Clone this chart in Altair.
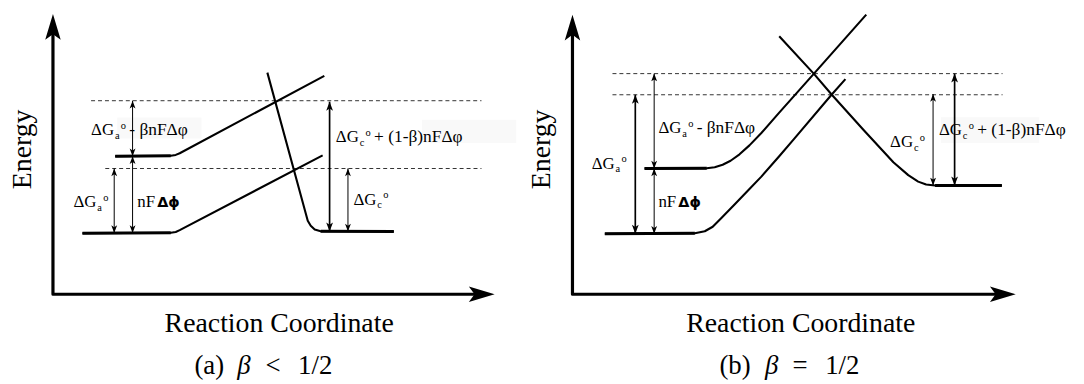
import altair as alt
import pandas as pd

# ---------------- values (pixel coordinates) ----------------
# panel (a)  beta < 1/2
A_ANODE_LOW_X = [83, 172, 177, 181, 325]
A_ANODE_LOW_Y = [233.5, 233, 232.2, 230.4, 155]
A_ANODE_UP_X = [116, 172, 177, 181, 326.7]
A_ANODE_UP_Y = [156, 155.5, 154.6, 152.9, 75]
A_CATH_X = [269.3, 310, 313, 317, 323, 396.7]
A_CATH_Y = [71.7, 221, 226, 229.8, 231.5, 231.7]

# panel (b)  beta = 1/2
B_ANODE_LOW_X = [609.3, 700, 710, 718, 727, 740, 755, 767, 785, 800, 837.7, 851.7]
B_ANODE_LOW_Y = [234, 233.6, 231.5, 227, 218, 204.5, 189, 176.5, 156, 138.5, 94, 78.3]
B_ANODE_UP_X = [649.3, 712, 720, 728, 736, 745, 755, 767, 785, 820, 872.7]
B_ANODE_UP_Y = [168.3, 168, 167, 164.5, 160.5, 154, 145, 132.5, 112, 72.7, 13.3]
B_CATH_X = [785, 820, 838, 870, 900, 915, 925, 933, 942, 1009.3]
B_CATH_Y = [35, 73, 94, 129.5, 162, 175, 181.5, 184.5, 185.5, 185.5]

# axes (origin x, origin y, y tip, x tip)
AXES_X0 = [53.3, 576.7]
AXES_Y0 = [295, 295]
AXES_YTIP = [12.7, 13.3]
AXES_XTIP = [498.3, 1023.3]

# dashed levels
DASH_Y = [100, 168.3, 72.7, 94]
DASH_X1 = [91.7, 106, 617, 617]
DASH_X2 = [485, 485, 1010, 1010]

# double arrows: x, top, bottom, heavy?
ARR_X = [133.5, 133.5, 115, 332, 350.5, 640, 659, 659, 940, 961.7]
ARR_TOP = [100, 156, 168.3, 101, 168.3, 94, 72.7, 168.3, 93.3, 72.7]
ARR_BOT = [156, 233.3, 233.3, 231.7, 231.7, 234, 168.3, 234, 185.3, 185.3]
ARR_HEAVY = [0, 0, 0, 1, 0, 1, 0, 0, 0, 1]

# ΔG labels: left x, baseline, subscript, remainder
LAB_X = [91.7, 74, 338.3, 356, 663.3, 596, 896.7, 946]
LAB_Y = [135, 207.5, 141.7, 205, 132.7, 168.3, 146.7, 135]
LAB_SUB = ["a", "a", "c", "c", "a", "a", "c", "c"]
LAB_REST = [" - βnFΔφ", "", " + (1-β)nFΔφ", "", " - βnFΔφ", "", "", " + (1-β)nFΔφ"]

# nFΔϕ labels
NF_X = [138.3, 663.3]
NF_Y = [207.5, 206.7]

# faint label backgrounds
BOX_X1 = [118, 425, 948]
BOX_X2 = [203, 520, 1047]
BOX_Y1 = [117, 119.3, 116.7]
BOX_Y2 = [138, 142.7, 142.7]

# big titles
ENERGY_X = [23, 546]
ENERGY_Y = [149, 149]
RC_X = [281.2, 806.7]
RC_Y = [333.3, 333.3]
CAP_TEXT = ["(a)", "<", "1/2", "(b)", "=", "1/2"]
CAP_X = [210.8, 275, 317.5, 740.5, 806, 848.5]
CAP_BETA_X = [245.8, 777.5]
CAP_Y = 375

SERIF = "'Liberation Serif', 'Times New Roman', Times, serif"

# ---------------- build tables ----------------
X = lambda f="x": alt.X(f"{f}:Q", scale=alt.Scale(domain=[8, 1084], nice=False, zero=False), axis=None)
Y = lambda f="y": alt.Y(f"{f}:Q", scale=alt.Scale(domain=[8, 384], reverse=True, nice=False, zero=False), axis=None)

curves = []
defs = [
    ("a_low", A_ANODE_LOW_X, A_ANODE_LOW_Y, "first"),
    ("a_up", A_ANODE_UP_X, A_ANODE_UP_Y, "first"),
    ("a_cath", A_CATH_X, A_CATH_Y, "last"),
    ("b_low", B_ANODE_LOW_X, B_ANODE_LOW_Y, "first"),
    ("b_up", B_ANODE_UP_X, B_ANODE_UP_Y, "first"),
    ("b_cath", B_CATH_X, B_CATH_Y, "last"),
]
for cid, xs, ys, flat in defs:
    for i, (xx, yy) in enumerate(zip(xs, ys)):
        curves.append({"x": xx, "y": yy, "id": cid, "o": i, "w": 2.1})
    # heavier flat (well bottom) segment
    idx = [0, 1] if flat == "first" else [len(xs) - 2, len(xs) - 1]
    for j, i in enumerate(idx):
        curves.append({"x": xs[i], "y": ys[i], "id": cid + "_flat", "o": j, "w": 3.0})
for k in range(2):
    curves += [
        {"x": AXES_X0[k], "y": AXES_YTIP[k] + 14, "id": f"ax{k}", "o": 0, "w": 3.2},
        {"x": AXES_X0[k], "y": AXES_Y0[k], "id": f"ax{k}", "o": 1, "w": 3.2},
        {"x": AXES_XTIP[k] - 14, "y": AXES_Y0[k], "id": f"ax{k}", "o": 2, "w": 3.2},
    ]
curves = pd.DataFrame(curves)

UP = "M0,0 L0.38,1 L0,0.75 L-0.38,1 Z"
DOWN = "M0,0 L0.38,-1 L0,-0.75 L-0.38,-1 Z"
BIG_UP = "M0,0 L0.3,1 L0,0.78 L-0.3,1 Z"
BIG_RIGHT = "M0,0 L-1,-0.3 L-0.78,0 L-1,0.3 Z"

heads = []
arrows = []
for xx, t, b, h in zip(ARR_X, ARR_TOP, ARR_BOT, ARR_HEAVY):
    arrows.append({"x": xx, "y": t, "y2": b, "w": 1.7 if h else 1.0})
    s = 324 if h else 240
    heads.append({"x": xx, "y": t, "shape": UP, "size": s})
    heads.append({"x": xx, "y": b, "shape": DOWN, "size": s})
for k in range(2):
    heads.append({"x": AXES_X0[k], "y": AXES_YTIP[k], "shape": BIG_UP, "size": 26 * 26 * 4})
    heads.append({"x": AXES_XTIP[k], "y": AXES_Y0[k], "shape": BIG_RIGHT, "size": 26 * 26 * 4})
heads = pd.DataFrame(heads)
arrows = pd.DataFrame(arrows)

dashes = pd.DataFrame({"y": DASH_Y, "x": DASH_X1, "x2": DASH_X2})
boxes = pd.DataFrame({"x": BOX_X1, "x2": BOX_X2, "y": BOX_Y1, "y2": BOX_Y2})

pieces = []
for x0, y0, sub, rest in zip(LAB_X, LAB_Y, LAB_SUB, LAB_REST):
    pieces.append({"x": x0, "y": y0, "t": "ΔG", "s": 17})
    pieces.append({"x": x0 + 24, "y": y0 + 3.5, "t": sub, "s": 10.5})
    pieces.append({"x": x0 + 30, "y": y0 - 6.5, "t": "o", "s": 10.5})
    if rest:
        pieces.append({"x": x0 + 38.5, "y": y0, "t": rest, "s": 17.5})
for x0, y0 in zip(NF_X, NF_Y):
    pieces.append({"x": x0, "y": y0, "t": "nF", "s": 17})
pieces = pd.DataFrame(pieces)
dphi = pd.DataFrame({"x": [x + 20 for x in NF_X], "y": NF_Y, "t": ["Δϕ", "Δϕ"]})

energy = pd.DataFrame({"x": ENERGY_X, "y": ENERGY_Y, "t": ["Energy", "Energy"]})
rc = pd.DataFrame({"x": RC_X, "y": RC_Y, "t": ["Reaction Coordinate"] * 2})
cap = pd.DataFrame({"x": CAP_X, "y": [CAP_Y] * len(CAP_X), "t": CAP_TEXT})
capb = pd.DataFrame({"x": CAP_BETA_X, "y": [CAP_Y] * 2, "t": ["β", "β"]})

# ---------------- layers ----------------
box_l = alt.Chart(boxes).mark_rect(color="#f9f9f9").encode(x=X(), x2="x2:Q", y=Y(), y2="y2:Q")
dash_l = alt.Chart(dashes).mark_rule(color="#333333", strokeWidth=1, strokeDash=[4, 3]).encode(
    x=X(), x2="x2:Q", y=Y())
curve_l = alt.Chart(curves).mark_line(color="black", strokeJoin="round", strokeCap="butt").encode(
    x=X(), y=Y(), detail="id:N", order="o:Q", strokeWidth=alt.StrokeWidth("w:Q", scale=None))
arrow_l = alt.Chart(arrows).mark_rule(color="black").encode(
    x=X(), y=Y(), y2="y2:Q", strokeWidth=alt.StrokeWidth("w:Q", scale=None))
head_l = alt.Chart(heads).mark_point(filled=True, color="black", opacity=1, strokeWidth=0).encode(
    x=X(), y=Y(), shape=alt.Shape("shape:N", scale=None), size=alt.Size("size:Q", scale=None))
lab_l = alt.Chart(pieces).mark_text(font=SERIF, align="left", baseline="alphabetic", color="black").encode(
    x=X(), y=Y(), text="t:N", size=alt.Size("s:Q", scale=None))
dphi_l = alt.Chart(dphi).mark_text(font="'DejaVu Sans', sans-serif", fontWeight="bold", fontSize=14.5,
                                    align="left", baseline="alphabetic", color="black").encode(
    x=X(), y=Y(), text="t:N")
energy_l = alt.Chart(energy).mark_text(font=SERIF, fontSize=28, angle=270, align="center",
                                        baseline="middle", color="black").encode(x=X(), y=Y(), text="t:N")
rc_l = alt.Chart(rc).mark_text(font=SERIF, fontSize=28, align="center", baseline="alphabetic",
                                color="black").encode(x=X(), y=Y(), text="t:N")
cap_l = alt.Chart(cap).mark_text(font=SERIF, fontSize=27, align="center", baseline="alphabetic",
                                  color="black").encode(x=X(), y=Y(), text="t:N")
capb_l = alt.Chart(capb).mark_text(font=SERIF, fontSize=27, fontStyle="italic", align="center",
                                    baseline="alphabetic", color="black").encode(x=X(), y=Y(), text="t:N")

chart = alt.layer(box_l, dash_l, curve_l, arrow_l, head_l, lab_l, dphi_l, energy_l, rc_l, cap_l, capb_l).properties(
    width=1076, height=376, autosize=alt.AutoSizeParams(type="none"), padding=0
).configure_view(stroke=None)

chart.save("out.html", embed_options={"renderer": "svg", "actions": False})
